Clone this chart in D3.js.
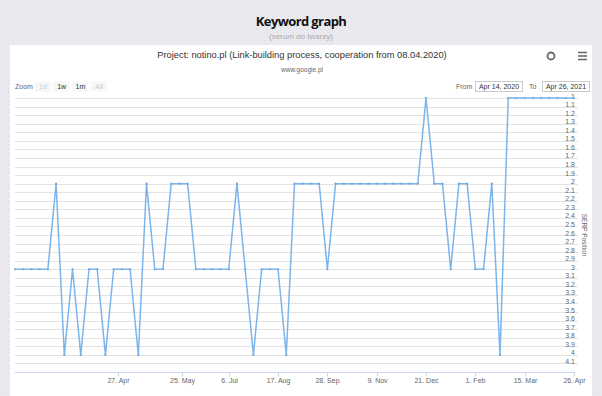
<!DOCTYPE html>
<html>
<head>
<meta charset="utf-8">
<script src="https://cdn.jsdelivr.net/npm/d3@7"></script>
<style>
  body { margin: 0; background: #e9e9ed; }
  svg { display: block; font-family: "Liberation Sans", Arial, sans-serif; }
</style>
</head>
<body>
<svg id="chart" width="602" height="396"></svg>
<script>
// data points (ordinal axis: one slot per point)
var pointDates = [
  "2020-04-14","2020-04-15","2020-04-16","2020-04-17","2020-04-18","2020-04-19","2020-04-20",
  "2020-04-21","2020-04-22","2020-04-23","2020-04-24","2020-04-25","2020-04-26",
  "2020-04-28","2020-05-01","2020-05-05","2020-05-08","2020-05-12","2020-05-15","2020-05-19","2020-05-22",
  "2020-06-01","2020-06-08","2020-06-15","2020-06-22","2020-06-29",
  "2020-07-06","2020-07-13","2020-07-20","2020-07-27",
  "2020-08-03","2020-08-10","2020-08-17","2020-08-24","2020-08-31",
  "2020-09-07","2020-09-14","2020-09-21","2020-09-28",
  "2020-10-05","2020-10-12","2020-10-19","2020-10-26",
  "2020-11-02","2020-11-09","2020-11-16","2020-11-23","2020-11-30",
  "2020-12-07","2020-12-14","2020-12-21","2020-12-28",
  "2021-01-04","2021-01-11","2021-01-18","2021-01-25",
  "2021-02-01","2021-02-08","2021-02-15","2021-02-22",
  "2021-03-01","2021-03-08","2021-03-15","2021-03-22","2021-03-29",
  "2021-04-05","2021-04-12","2021-04-19","2021-04-26"
];
var positions = [
  3, 3, 3, 3, 3, 2, 4, 3, 4, 3, 3, 4, 3, 3, 3, 4, 2, 3, 3, 2,
  2, 2, 3, 3, 3, 3, 3, 2, 3, 4, 3, 3, 3, 4, 2, 2, 2, 2, 3, 2,
  2, 2, 2, 2, 2, 2, 2, 2, 2, 2, 1, 2, 2, 3, 2, 2, 3, 3, 2, 4,
  1, 1, 1, 1, 1, 1, 1, 1, 1
];
var tickDates = ["2020-04-27","2020-05-25","2020-07-06","2020-08-17","2020-09-28",
                 "2020-11-09","2020-12-21","2021-02-01","2021-03-15","2021-04-26"];
var tickLabels = ["27. Apr","25. May","6. Jul","17. Aug","28. Sep",
                  "9. Nov","21. Dec","1. Feb","15. Mar","26. Apr"];
var yTickValues = d3.range(10, 42).map(d => d / 10);
var zoomButtons = ["1d", "1w", "1m", "All"];
var zoomEnabled = [false, true, true, false];

var svg = d3.select("#chart");
var W = 602, H = 396;

// textured page background
var defs = svg.append("defs");
var pat = defs.append("pattern").attr("id", "tex")
  .attr("width", 4).attr("height", 4).attr("patternUnits", "userSpaceOnUse");
pat.append("rect").attr("width", 4).attr("height", 4).attr("fill", "#ebebef");
pat.append("rect").attr("x", 0).attr("y", 0).attr("width", 1).attr("height", 1).attr("fill", "#dcdce2");
pat.append("rect").attr("x", 2).attr("y", 2).attr("width", 1).attr("height", 1).attr("fill", "#e0e0e6");
svg.append("rect").attr("width", W).attr("height", H).attr("fill", "url(#tex)");

// header
svg.append("text").attr("x", 301).attr("y", 26).attr("text-anchor", "middle")
  .style("font-family", "'Open Sans', sans-serif").style("font-weight", "bold")
  .style("font-size", "13px").style("letter-spacing", "-0.6px").attr("fill", "#111")
  .text("Keyword graph");
svg.append("text").attr("x", 301).attr("y", 39).attr("text-anchor", "middle")
  .style("font-size", "8px").attr("fill", "#aaa").text("(serum do twarzy)");

// chart panel
svg.append("rect").attr("x", 10).attr("y", 45).attr("width", 582).attr("height", H - 45).attr("fill", "#fff");

svg.append("text").attr("x", 302).attr("y", 58).attr("text-anchor", "middle")
  .style("font-size", "9.3px").attr("fill", "#333")
  .text("Project: notino.pl (Link-building process, cooperation from 08.04.2020)");
svg.append("text").attr("x", 302).attr("y", 72).attr("text-anchor", "middle")
  .style("font-size", "6.5px").attr("fill", "#666").text("www.google.pl");

// export-ish buttons
svg.append("circle").attr("cx", 551).attr("cy", 56).attr("r", 3.5)
  .attr("fill", "none").attr("stroke", "#666").attr("stroke-width", 1.8);
[52.5, 56, 59.5].forEach(function (yy) {
  svg.append("line").attr("x1", 578).attr("x2", 587).attr("y1", yy).attr("y2", yy)
    .attr("stroke", "#666").attr("stroke-width", 1.5);
});

// range selector
svg.append("text").attr("x", 15).attr("y", 89).style("font-size", "7px").attr("fill", "#666").text("Zoom");
var btn = svg.selectAll(".zbtn").data(zoomButtons).enter().append("g")
  .attr("transform", (d, i) => "translate(" + (35 + i * 18.7) + ",81.5)");
btn.append("rect").attr("width", 16).attr("height", 10).attr("fill", "#f7f7f7");
btn.append("text").attr("x", 8).attr("y", 7.5).attr("text-anchor", "middle")
  .style("font-size", "7px").attr("fill", (d, i) => zoomEnabled[i] ? "#333" : "#ccc").text(d => d);

svg.append("text").attr("x", 456).attr("y", 89).style("font-size", "7px").attr("fill", "#666").text("From");
svg.append("text").attr("x", 529).attr("y", 89).style("font-size", "7px").attr("fill", "#666").text("To");
[[475, pointDates[0]], [542, pointDates[pointDates.length - 1]]].forEach(function (b) {
  svg.append("rect").attr("x", b[0] + 0.5).attr("y", 81.5).attr("width", 47).attr("height", 10)
    .attr("fill", "#fff").attr("stroke", "#ccc");
  svg.append("text").attr("x", b[0] + 24).attr("y", 89).attr("text-anchor", "middle")
    .style("font-size", "7px").attr("fill", "#333")
    .text(d3.timeFormat("%b %-d, %Y")(d3.timeParse("%Y-%m-%d")(b[1])));
});

// scales
var x = d3.scaleLinear().domain([0, positions.length - 1]).range([15, 574]);
var y = d3.scaleLinear().domain([1, 4.2]).range([98, 372]);

// ordinal position of a date between data points
var parse = d3.timeParse("%Y-%m-%d");
var times = pointDates.map(d => +parse(d));
function ordinalIndex(dateStr) {
  var t = +parse(dateStr);
  var i = d3.bisectRight(times, t) - 1;
  if (i >= times.length - 1) return times.length - 1;
  return i + (t - times[i]) / (times[i + 1] - times[i]);
}

// grid
svg.append("g").selectAll("line").data(yTickValues).enter().append("line")
  .attr("x1", 15).attr("x2", 578)
  .attr("y1", d => Math.round(y(d)) + 0.5).attr("y2", d => Math.round(y(d)) + 0.5)
  .attr("stroke", "#e2e2e2");

// y labels (opposite side, inside)
svg.append("g").selectAll("text").data(yTickValues).enter().append("text")
  .attr("x", 575).attr("y", d => y(d) + 0.5).attr("text-anchor", "end")
  .style("font-size", "7px").attr("fill", "#666")
  .text(d => d3.format("~g")(d));

svg.append("text").attr("transform", "translate(582," + ((y.range()[0] + y.range()[1]) / 2) + ") rotate(90)")
  .attr("text-anchor", "middle").style("font-size", "6.5px").attr("fill", "#666").text("SERP Position");

// x axis
var xAxisY = Math.round(y(4.2)) + 0.5;
svg.append("line").attr("x1", 15).attr("x2", 575).attr("y1", xAxisY).attr("y2", xAxisY).attr("stroke", "#ccd6eb");
var xt = svg.append("g").selectAll("g").data(tickDates).enter().append("g")
  .attr("transform", d => "translate(" + (Math.round(x(ordinalIndex(d))) + 0.5) + "," + xAxisY + ")");
xt.append("line").attr("y2", 4).attr("stroke", "#ccd6eb");
xt.append("text").attr("y", 10).attr("text-anchor", "middle")
  .style("font-size", "7px").attr("fill", "#666").text((d, i) => tickLabels[i]);

// series
var line = d3.line().x((d, i) => x(i)).y(d => y(d));
svg.append("path").datum(positions).attr("d", line)
  .attr("fill", "none").attr("stroke", "#7cb5ec").attr("stroke-width", 1.5)
  .attr("stroke-linejoin", "round");
svg.append("g").selectAll("circle").data(positions).enter().append("circle")
  .attr("cx", (d, i) => x(i)).attr("cy", d => y(d)).attr("r", 1.1).attr("fill", "#6fa8e0");
</script>
</body>
</html>
